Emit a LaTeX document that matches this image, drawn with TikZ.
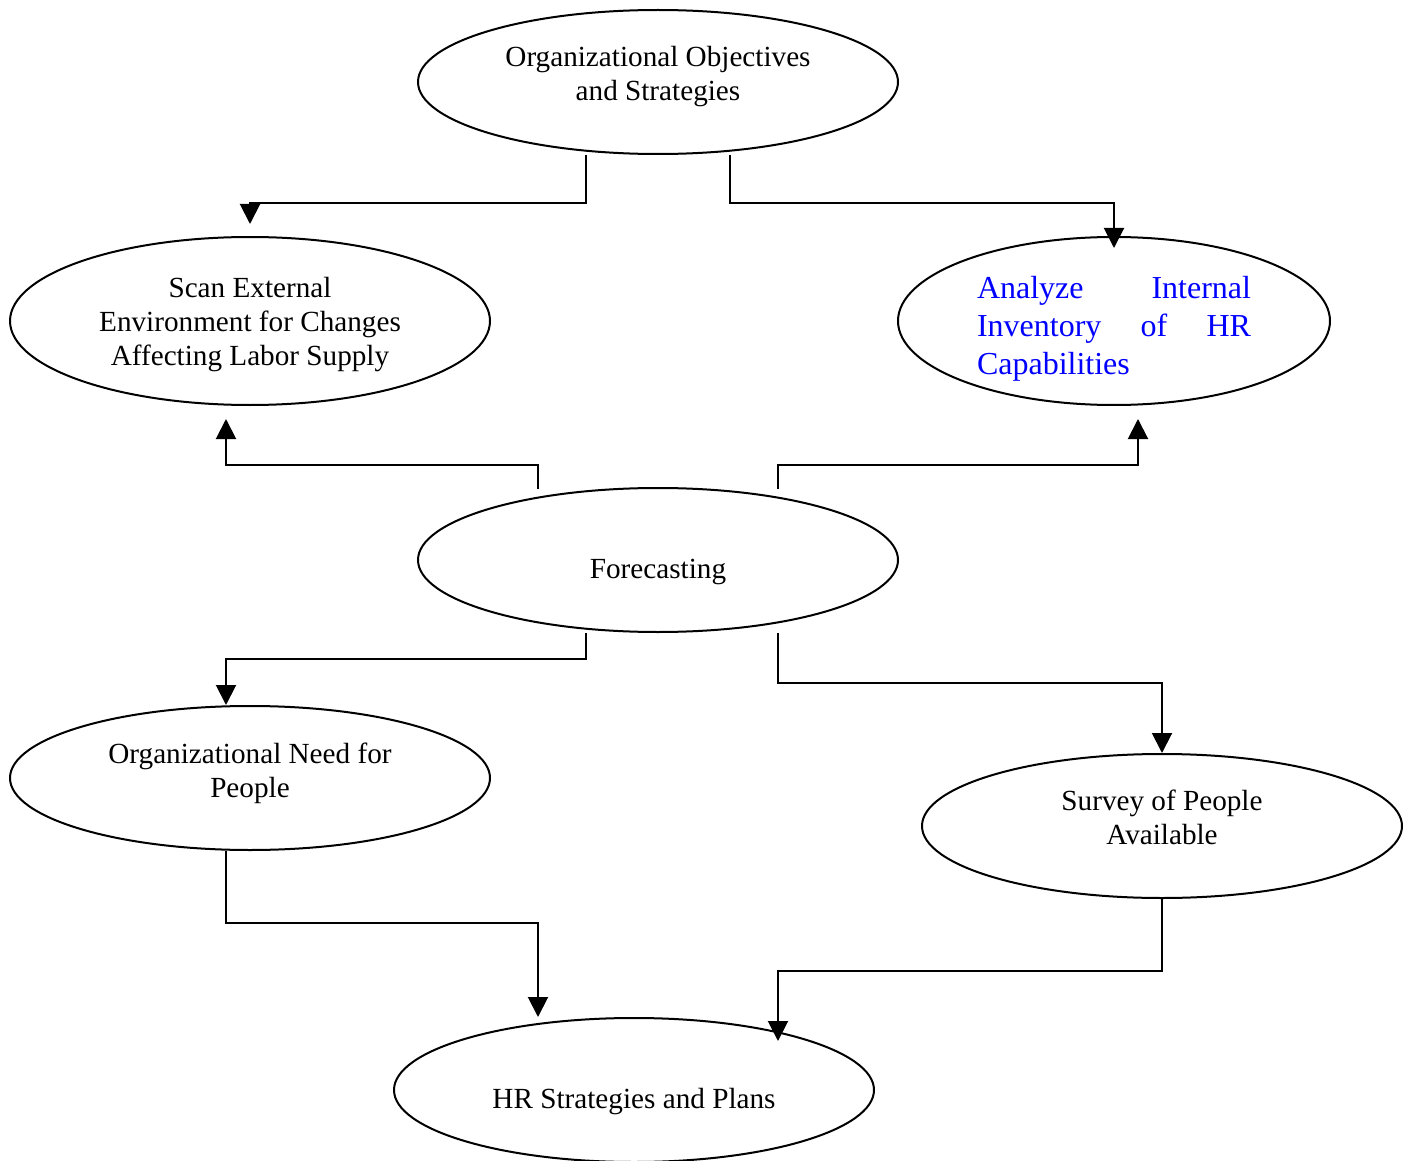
\documentclass[tikz,border=0pt]{standalone}
\usepackage{fontspec}
\setmainfont{Liberation Serif}
\usetikzlibrary{shapes.geometric,arrows.meta,calc}
\begin{document}
\begin{tikzpicture}[x=0.5pt,y=-0.5pt,
oval/.style={draw,ellipse,line width=1pt,minimum width=240pt,minimum height=72pt,inner sep=0pt},
words/.style={align=center,inner sep=0pt,font=\fontsize{14.6}{17}\selectfont},
link/.style={draw,line width=1pt,-{Triangle[length=10pt,width=10pt]}}]
\useasboundingbox (0,0) rectangle (1410,1161);
\node[oval,label={[words,yshift=2.5pt]center:Organizational Objectives\\and Strategies}] (goals) at (658,82) {};
\node[oval,minimum height=84pt,label={[words,yshift=-2pt]center:Scan External\\Environment for Changes\\Affecting Labor Supply}] (scan) at (250,321) {};
\node[oval,minimum width=216pt,minimum height=84pt,label={[words,yshift=-4pt,text=blue,text width=137pt,align=left,%
font=\fontsize{16}{19}\selectfont]center:Analyze\hfill Internal\\Inventory\hfill of\hfill HR\\Capabilities}] (inventory) at (1114,321) {};
\node[oval,label={[words,yshift=-6pt]center:Forecasting}] (forecast) at (658,560) {};
\node[oval,label={[words,yshift=2.5pt]center:Organizational Need for\\People}] (need) at (250,778) {};
\node[oval,label={[words,yshift=4.5pt]center:Survey of People\\Available}] (survey) at (1162,826) {};
\node[oval,label={[words,yshift=-6pt]center:HR Strategies and Plans}] (plans) at (634,1090) {};
\coordinate (scantop) at ($(scan.north)+(0,-12)$);
\coordinate (invtop) at ($(inventory.north)+(0,12)$);
\coordinate (scanbot) at ($(scan.south)+(-24,13)$);
\coordinate (invbot) at ($(inventory.south)+(24,13)$);
\coordinate (plansleft) at ($(plans.north)+(-96,0)$);
\coordinate (plansright) at ($(plans.north)+(144,24)$);
\path[link] ($(goals.south)+(-72,0)$) -- ++(0,48) -| (scantop);
\path[link] ($(goals.south)+(72,0)$) -- ++(0,48) -| (invtop);
\path[link] ($(forecast.north)+(-120,2)$) -- ++(0,-24) -| (scanbot);
\path[link] ($(forecast.north)+(120,2)$) -- ++(0,-24) -| (invbot);
\path[link] ($(forecast.south)+(-72,0)$) -- ++(0,26) -| ($(need.north)+(-24,0)$);
\path[link] ($(forecast.south)+(120,0)$) -- ++(0,50) -| (survey.north);
\path[link] ($(need.south)+(-24,0)$) -- ++(0,72) -| (plansleft);
\path[link] (survey.south) -- ++(0,72) -| (plansright);
\end{tikzpicture}
\end{document}
